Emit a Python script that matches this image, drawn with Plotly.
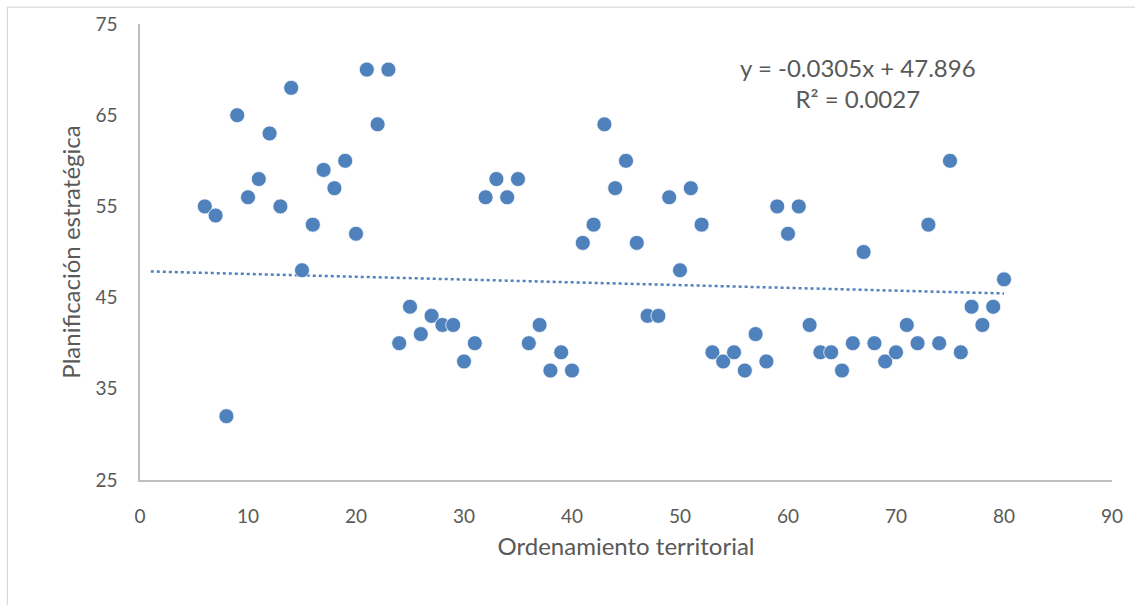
import plotly.graph_objects as go

# Data
ordenamiento = list(range(6, 81))
planificacion = [
    55, 54, 32, 65, 56, 58, 63, 55, 68, 48,   # 6-15
    53, 59, 57, 60, 52, 70, 64, 70, 40, 44,   # 16-25
    41, 43, 42, 42, 38, 40, 56, 58, 56, 58,   # 26-35
    40, 42, 37, 39, 37, 51, 53, 64, 57, 60,   # 36-45
    51, 43, 43, 56, 48, 57, 53, 39, 38, 39,   # 46-55
    37, 41, 38, 55, 52, 55, 42, 39, 39, 37,   # 56-65
    40, 50, 40, 38, 39, 42, 40, 53, 40, 60,   # 66-75
    39, 44, 42, 44, 47,                       # 76-80
]

# Trendline as reported in the chart
slope = -0.0305
intercept = 47.896
r_squared = 0.0027
trend_x = [1, 80]
trend_y = [slope * x + intercept for x in trend_x]

x_ticks = [0, 10, 20, 30, 40, 50, 60, 70, 80, 90]
y_ticks = [25, 35, 45, 55, 65, 75]

BLUE = "#4F81BD"
TEXT = "#595959"
AXIS = "#BFBFBF"
FONT = "Lato, Noto Sans, sans-serif"

fig = go.Figure()
fig.add_trace(go.Scatter(
    x=trend_x, y=trend_y, mode="lines",
    line=dict(color=BLUE, width=2.5, dash="dot"),
    hoverinfo="skip", showlegend=False,
))
fig.add_trace(go.Scatter(
    x=ordenamiento, y=planificacion, mode="markers",
    marker=dict(color=BLUE, size=15, line=dict(color="white", width=0.75)),
    showlegend=False,
))

fig.add_annotation(
    x=66.5, y=68.5, xref="x", yref="y",
    text=f"y = {slope}x + {intercept}<br>R² = {r_squared}",
    showarrow=False, align="center",
    font=dict(family=FONT, size=24, color=TEXT),
)

# Outer chart border (left/top edges visible in the frame)
fig.add_shape(type="rect", xref="paper", yref="paper",
              x0=-0.1364, x1=1.2, y0=-0.5, y1=1.037,
              line=dict(color="#D9D9D9", width=1.2), layer="below")

fig.update_layout(
    width=1135, height=605,
    margin=dict(l=140, r=20, t=22, b=125),
    paper_bgcolor="white", plot_bgcolor="white",
    font=dict(family=FONT, size=19, color=TEXT),
    xaxis=dict(
        range=[0, 90], tickvals=x_ticks, showgrid=False, zeroline=False,
        showline=True, linecolor=AXIS, linewidth=1.5, ticks="",
        tickfont=dict(size=19, color=TEXT), ticklabelstandoff=18,
        title=dict(text="Ordenamiento territorial", font=dict(size=24, color=TEXT), standoff=13),
    ),
    yaxis=dict(
        range=[25, 75], tickvals=y_ticks, showgrid=False, zeroline=False,
        showline=True, linecolor=AXIS, linewidth=1.5, ticks="",
        tickfont=dict(size=19, color=TEXT), ticklabelstandoff=17,
        title=dict(text="Planificación estratégica", font=dict(size=24, color=TEXT), standoff=8),
    ),
)

fig.write_html("out.html", config={"displayModeBar": False},
               post_script="document.body.style.margin='0';")
